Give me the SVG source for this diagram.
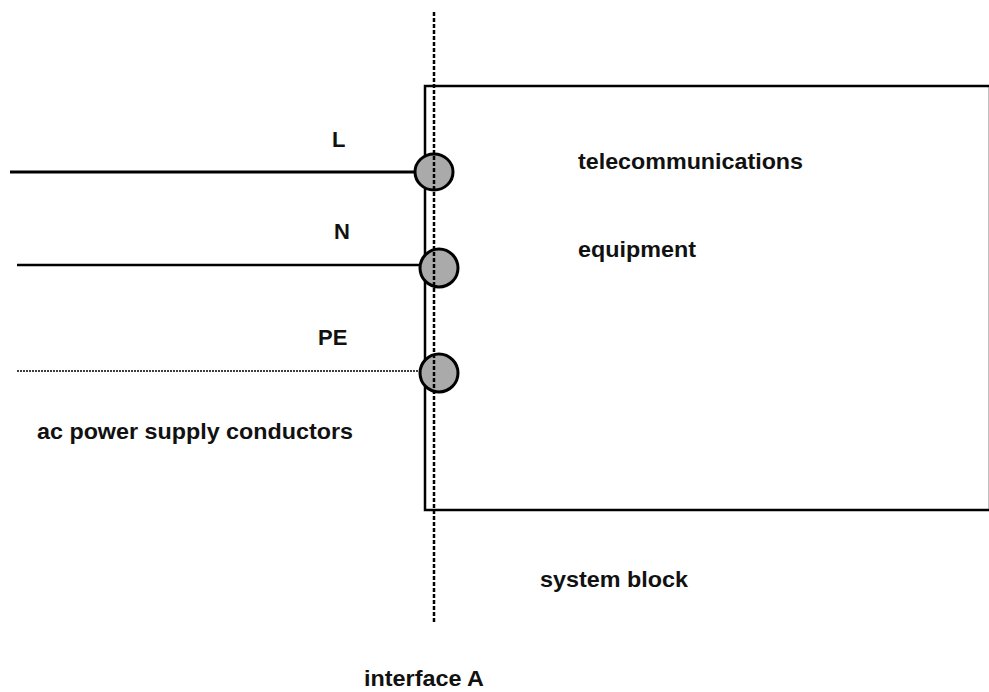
<svg xmlns="http://www.w3.org/2000/svg" width="989" height="692" viewBox="0 0 989 692">
<style>
  .t { font-family: "Liberation Sans", Arial, sans-serif; font-weight: bold; font-size: 22px; fill: #111; }
  .wire { stroke: #000; fill: none; }
  .term { fill: #aaaaaa; stroke: #000; stroke-width: 3; }
</style>
<rect width="989" height="692" fill="#ffffff"/>
<g id="system-block">
  <rect x="425" y="86" width="565" height="424" fill="none" stroke="#000" stroke-width="2.5"/>
</g>
<g id="connectors">
  <line class="wire" x1="10" y1="172" x2="416" y2="172" stroke-width="3"/>
  <line class="wire" x1="17" y1="265" x2="420" y2="265" stroke-width="2.5"/>
  <line class="wire" x1="17" y1="371" x2="420" y2="371" stroke-width="1.5" stroke-dasharray="2 1"/>
</g>
<g id="terminal-L"><ellipse class="term" cx="434" cy="172" rx="19" ry="18"/></g>
<g id="terminal-N"><ellipse class="term" cx="439" cy="268" rx="19" ry="19"/></g>
<g id="terminal-PE"><ellipse class="term" cx="439" cy="373" rx="19" ry="19"/></g>
<g id="interface-A-line">
  <line x1="434" y1="12" x2="434" y2="623" stroke="#000" stroke-width="2.5" stroke-dasharray="4 2"/>
</g>
<g id="labels">
  <text class="t" x="332" y="147">L</text>
  <text class="t" x="334" y="239">N</text>
  <text class="t" x="318" y="345">PE</text>
  <text class="t" x="578" y="169" textLength="225" lengthAdjust="spacingAndGlyphs">telecommunications</text>
  <text class="t" x="578" y="257" textLength="118" lengthAdjust="spacingAndGlyphs">equipment</text>
  <text class="t" x="37" y="439" textLength="316" lengthAdjust="spacingAndGlyphs">ac power supply conductors</text>
  <text class="t" x="540" y="587" textLength="148" lengthAdjust="spacingAndGlyphs">system block</text>
  <text class="t" x="364" y="686" textLength="120" lengthAdjust="spacingAndGlyphs">interface A</text>
</g>
</svg>
